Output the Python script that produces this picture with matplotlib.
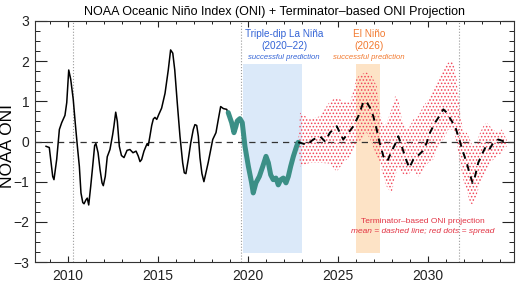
import matplotlib
matplotlib.use("Agg")
import matplotlib.pyplot as plt
from matplotlib.ticker import MultipleLocator

plt.rcParams["font.family"] = ["Liberation Sans", "DejaVu Sans"]
plt.rcParams["hatch.linewidth"] = 0.7

# observed ONI (black line)
obs_x = [2008.77, 2008.95, 2009.14, 2009.21, 2009.36, 2009.51, 2009.64, 2009.82, 2009.92,
         2010.03, 2010.14, 2010.28, 2010.39, 2010.51, 2010.62, 2010.71, 2010.81, 2010.88,
         2010.99, 2011.06, 2011.14, 2011.25, 2011.36, 2011.47, 2011.54, 2011.66, 2011.77,
         2011.88, 2011.95, 2012.06, 2012.17, 2012.32, 2012.47, 2012.54, 2012.64, 2012.73,
         2012.84, 2012.96, 2013.10, 2013.27, 2013.43, 2013.60, 2013.77, 2013.89, 2013.99,
         2014.08, 2014.21, 2014.32, 2014.39, 2014.45, 2014.54, 2014.64, 2014.73, 2014.82,
         2014.92, 2015.03, 2015.19, 2015.38, 2015.56, 2015.69, 2015.81, 2015.92, 2016.06,
         2016.21, 2016.36, 2016.45, 2016.54, 2016.67, 2016.81, 2016.95, 2017.04, 2017.14,
         2017.23, 2017.32, 2017.43, 2017.54, 2017.78, 2018.03, 2018.21, 2018.34, 2018.47,
         2018.62, 2018.81, 2018.89]
obs_y = [-0.12, -0.15, -0.87, -0.95, -0.45, 0.30, 0.47, 0.65, 0.97,
         1.78, 1.55, 1.05, 0.47, -0.12, -0.62, -1.28, -1.52, -1.55,
         -1.45, -1.41, -1.58, -1.12, -0.62, -0.10, -0.05, -0.28, -0.70,
         -1.03, -1.10, -0.87, -0.38, -0.20, 0.17, 0.38, 0.73, 0.50,
         -0.12, -0.35, -0.40, -0.22, -0.20, -0.28, -0.24, -0.36, -0.50,
         -0.45, -0.24, -0.12, -0.05, -0.10, 0.13, 0.40, 0.56, 0.60,
         0.55, 0.67, 0.83, 1.20, 1.78, 2.28, 2.20, 1.78, 0.96,
         0.13, -0.53, -0.78, -0.80, -0.45, -0.03, 0.30, 0.42, 0.40,
         0.13, -0.40, -0.80, -1.00, -0.52, 0.05, 0.22, 0.55, 0.87,
         0.82, 0.80, 0.68]

# highlighted triple-dip La Nina segment
nina_x = [2018.89, 2019.08, 2019.21, 2019.32, 2019.39, 2019.54, 2019.67, 2019.82, 2020.01,
          2020.19, 2020.28, 2020.43, 2020.62, 2020.81, 2020.99, 2021.12, 2021.25, 2021.39,
          2021.54, 2021.67, 2021.81, 2021.95, 2022.10, 2022.23, 2022.36, 2022.51, 2022.69,
          2022.78]
nina_y = [0.72, 0.47, 0.22, 0.38, 0.51, 0.57, 0.47, -0.12, -0.62,
          -1.03, -1.28, -1.03, -0.87, -0.62, -0.37, -0.53, -0.83, -0.95,
          -0.91, -1.08, -0.95, -0.91, -1.03, -0.87, -0.62, -0.37, -0.12,
          -0.02]

# projection mean (dashed)
proj_x = [2022.78, 2022.88, 2023.25, 2023.62, 2023.99, 2024.27, 2024.54, 2024.92, 2025.28,
          2025.54, 2025.84, 2026.12, 2026.39, 2026.54, 2026.77, 2026.95, 2027.14, 2027.28,
          2027.51, 2027.73, 2027.97, 2028.25, 2028.34, 2028.53, 2028.77, 2028.95, 2029.17,
          2029.39, 2029.69, 2029.92, 2030.10, 2030.38, 2030.62, 2030.84, 2031.03, 2031.25,
          2031.49, 2031.73, 2031.92, 2032.14, 2032.32, 2032.47, 2032.60, 2032.78, 2033.03,
          2033.21, 2033.39, 2033.62, 2033.89, 2034.17, 2034.36]
proj_mean = [-0.02, -0.03, -0.08, 0.05, 0.13, 0.00, 0.22, 0.38, 0.05,
             0.20, 0.38, 0.63, 0.97, 1.01, 0.84, 0.63, 0.30, 0.01,
             -0.37, -0.49, -0.24, 0.01, 0.13, -0.12, -0.45, -0.66, -0.45,
             -0.37, -0.24, -0.03, 0.22, 0.47, 0.63, 0.80, 0.72, 0.55,
             0.38, 0.05, -0.24, -0.53, -0.83, -1.03, -0.87, -0.53, -0.28,
             -0.12, -0.20, -0.03, 0.05, 0.01, 0.02]

# projection spread (red dots)
spread_x = [2022.78, 2022.88, 2023.43, 2023.99, 2024.54, 2024.92, 2025.28, 2025.66, 2026.03,
            2026.31, 2026.58, 2026.86, 2027.14, 2027.32, 2027.51, 2027.69, 2027.97, 2028.16,
            2028.34, 2028.53, 2028.81, 2028.99, 2029.17, 2029.45, 2029.73, 2030.01, 2030.28,
            2030.56, 2030.84, 2031.12, 2031.39, 2031.58, 2031.77, 2031.95, 2032.14, 2032.32,
            2032.47, 2032.69, 2032.88, 2033.06, 2033.25, 2033.43, 2033.62, 2033.81, 2034.08,
            2034.36]
spread_hi = [-0.02, 0.72, 0.55, 0.63, 1.00, 1.10, 1.00, 0.97, 1.59,
             1.68, 1.72, 1.63, 1.38, 0.72, 0.38, 0.47, 0.80, 1.13,
             1.05, 0.55, 0.30, 0.38, 0.55, 0.63, 0.88, 1.05, 1.30,
             1.55, 1.80, 1.97, 2.01, 1.55, 0.72, 0.22, 0.22, 0.05,
             -0.12, -0.03, 0.22, 0.38, 0.47, 0.38, 0.30, 0.22, 0.30,
             0.05]
spread_lo = [-0.02, -0.62, -0.53, -0.53, -0.55, -0.75, -0.53, -0.37, -0.03,
             0.05, 0.22, -0.03, -0.37, -0.53, -0.87, -1.12, -1.30, -0.87,
             -0.62, -0.78, -0.87, -0.78, -0.70, -0.87, -0.70, -0.53, -0.45,
             -0.12, 0.05, 0.30, 0.30, -0.03, -0.53, -0.95, -1.20, -1.53,
             -1.57, -1.35, -1.03, -0.87, -0.70, -0.53, -0.45, -0.37, -0.28,
             -0.12]

nina_band = [2019.69, 2022.97]
nino_band = [2025.97, 2027.32]
band_lo, band_hi = -2.78, 1.93
dotted_years = [2010.27, 2019.60, 2031.71]

fig = plt.figure(figsize=(5.2, 2.88), dpi=100)
ax = fig.add_axes([35 / 520, 1 - 262 / 288, 479 / 520, 241 / 288])

ax.fill_between(nina_band, band_lo, band_hi, color="#dbe9f9", lw=0, zorder=0)
ax.fill_between(nino_band, band_lo, band_hi, color="#fde3c6", lw=0, zorder=0)
for yr in dotted_years:
    ax.axvline(yr, color="#9a9a9a", lw=0.8, ls=":", zorder=1)
ax.axhline(0, color="#333333", lw=0.9, dashes=(5, 4), zorder=2)

ax.fill_between(spread_x, spread_lo, spread_hi, facecolor="none", edgecolor="#f24458",
                hatch=".....", linewidth=0, zorder=3)
ax.plot(obs_x, obs_y, color="black", lw=1.1, zorder=4)
ax.plot(nina_x, nina_y, color="#3b8f86", lw=3.6, solid_capstyle="round", zorder=5)
ax.plot(proj_x, proj_mean, color="black", lw=1.4, dashes=(3.5, 3), zorder=6)

ax.set_xlim(2008.156, 2034.767)
ax.set_ylim(-3, 3)
ax.xaxis.set_major_locator(MultipleLocator(5))
ax.xaxis.set_minor_locator(MultipleLocator(1))
ax.yaxis.set_major_locator(MultipleLocator(1))
ax.yaxis.set_minor_locator(MultipleLocator(0.25))
ax.tick_params(axis="both", which="both", direction="in", top=True, right=True,
               labelsize=10, colors="#222222")
ax.tick_params(axis="y", which="major", length=8.4, width=0.8, pad=4)
ax.tick_params(axis="y", which="minor", length=3.6, width=0.7)
ax.tick_params(axis="x", which="major", length=4, width=0.8, pad=5)
ax.tick_params(axis="x", which="minor", length=2, width=0.7)
for s in ax.spines.values():
    s.set_linewidth(0.8)
    s.set_color("#333333")

blue, orange, red = "#3464d6", "#f27a30", "#e23444"
ax.text(2021.99, 2.675, "Triple-dip La Niña", color=blue, fontsize=7.2, ha="center", va="center")
ax.text(2021.99, 2.375, "(2020–22)", color=blue, fontsize=7.2, ha="center", va="center")
ax.text(2021.99, 2.09, "successful prediction", color=blue, fontsize=5.6, style="italic",
        ha="center", va="center")
ax.text(2026.71, 2.675, "El Niño", color=orange, fontsize=7.2, ha="center", va="center")
ax.text(2026.71, 2.375, "(2026)", color=orange, fontsize=7.2, ha="center", va="center")
ax.text(2026.71, 2.09, "successful prediction", color=orange, fontsize=5.6, style="italic",
        ha="center", va="center")
ax.text(2029.71, -2.0, "Terminator–based ONI projection", color=red, fontsize=6,
        ha="center", va="center")
ax.text(2029.71, -2.24, "mean = dashed line; red dots = spread", color=red, fontsize=6,
        style="italic", ha="center", va="center")

fig.text(275 / 520, 1 - 11.7 / 288, "NOAA Oceanic Niño Index (ONI) + Terminator–based ONI Projection",
         fontsize=9, ha="center", va="center")
fig.text(8 / 520, 1 - 146 / 288, "NOAA ONI", rotation=90, fontsize=12.5, ha="center", va="center")

fig.savefig("out.png", dpi=100)
